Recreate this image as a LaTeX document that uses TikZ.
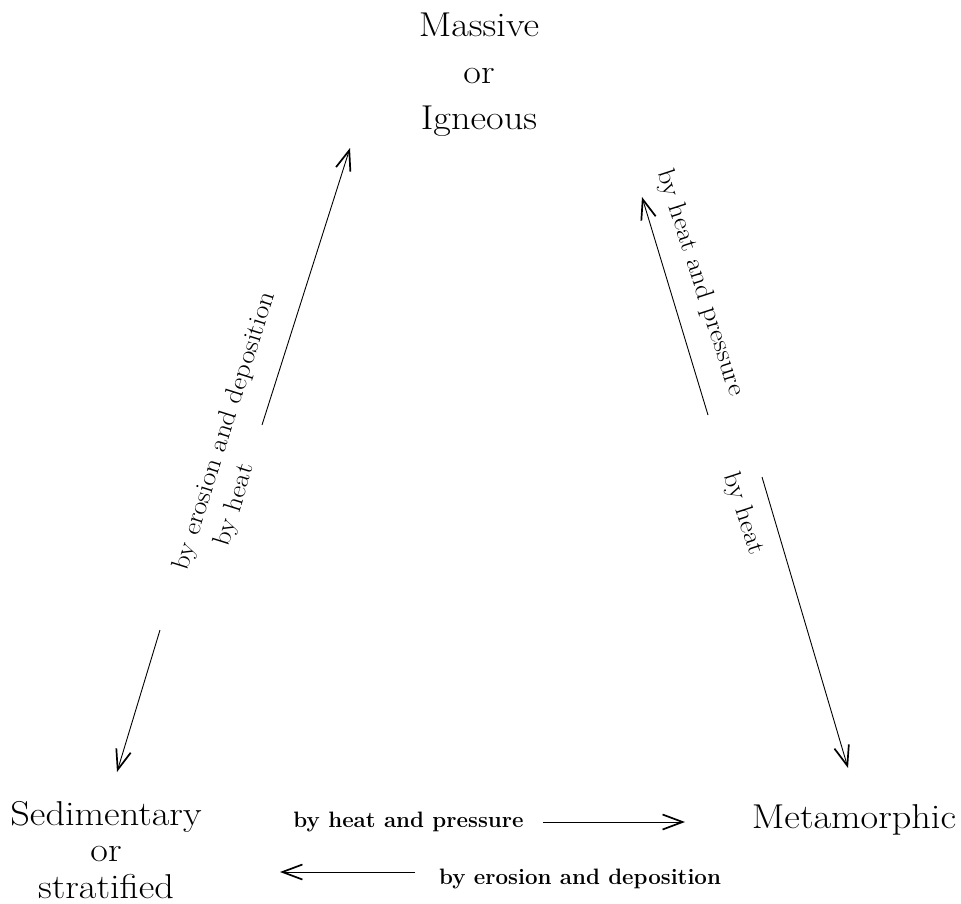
\documentclass[tikz,border=0pt]{standalone}
\usepackage{fontspec}
\setmainfont{Latin Modern Roman}[FakeStretch=1.11]
\newfontfamily\labfont{Latin Modern Roman}
\usetikzlibrary{arrows.meta}
\begin{document}
\begin{tikzpicture}[x=1pt,y=-1pt,
  rockA/.style={inner sep=0pt, align=center, font=\fontsize{34.5}{46.5}\selectfont},
  rockB/.style={inner sep=0pt, align=center, font=\fontsize{34.5}{36.5}\selectfont},
  slant/.style={inner sep=0pt, font=\fontsize{25.5}{30}\selectfont},
  flat/.style={inner sep=0pt, anchor=base, font=\labfont\bfseries\fontsize{22.3}{26}\selectfont},
  conn/.style={line width=0.9pt, -{Straight Barb[length=20pt,width=15pt,line width=1.7pt]}}
]
\useasboundingbox[fill=white] (0,0) rectangle (961,904);

% rock classes
\node[rockA] (ign) at (479,75) {Massive\\or\\Igneous};
\node[rockB] (sed) at (106,850) {Sedimentary\\or\\stratified};
\node[rockA, anchor=base] (met) at (854,828) {Metamorphic};

% arrow end points
\coordinate (lu0) at (262,425);
\coordinate (lu1) at (350,148);
\coordinate (ld0) at (160,630);
\coordinate (ld1) at (117,772);
\coordinate (ru0) at (708,415);
\coordinate (ru1) at (642,197);
\coordinate (rd0) at (762,477);
\coordinate (rd1) at (848,768);
\coordinate (br0) at (543,822);
\coordinate (br1) at (685,822);
\coordinate (bl0) at (415,872);
\coordinate (bl1) at (280,872);

\draw[conn] (lu0) -- (lu1);
\draw[conn] (ld0) -- (ld1);
\draw[conn] (ru0) -- (ru1);
\draw[conn] (rd0) -- (rd1);
\draw[conn] (br0) -- (br1);
\draw[conn] (bl0) -- (bl1);

% labels
\node[slant, rotate=72.5] (l1) at (225,431) {by erosion and deposition};
\node[slant, rotate=72.5] (l2) at (235,505) {by heat};
\node[slant, rotate=-72] (r1) at (700,283) {by heat and pressure};
\node[slant, rotate=-72] (r2) at (743,514) {by heat};
\node[flat] (b1) at (408.5,827) {by heat and pressure};
\node[flat] (b2) at (580,884) {by erosion and deposition};
\end{tikzpicture}
\end{document}
